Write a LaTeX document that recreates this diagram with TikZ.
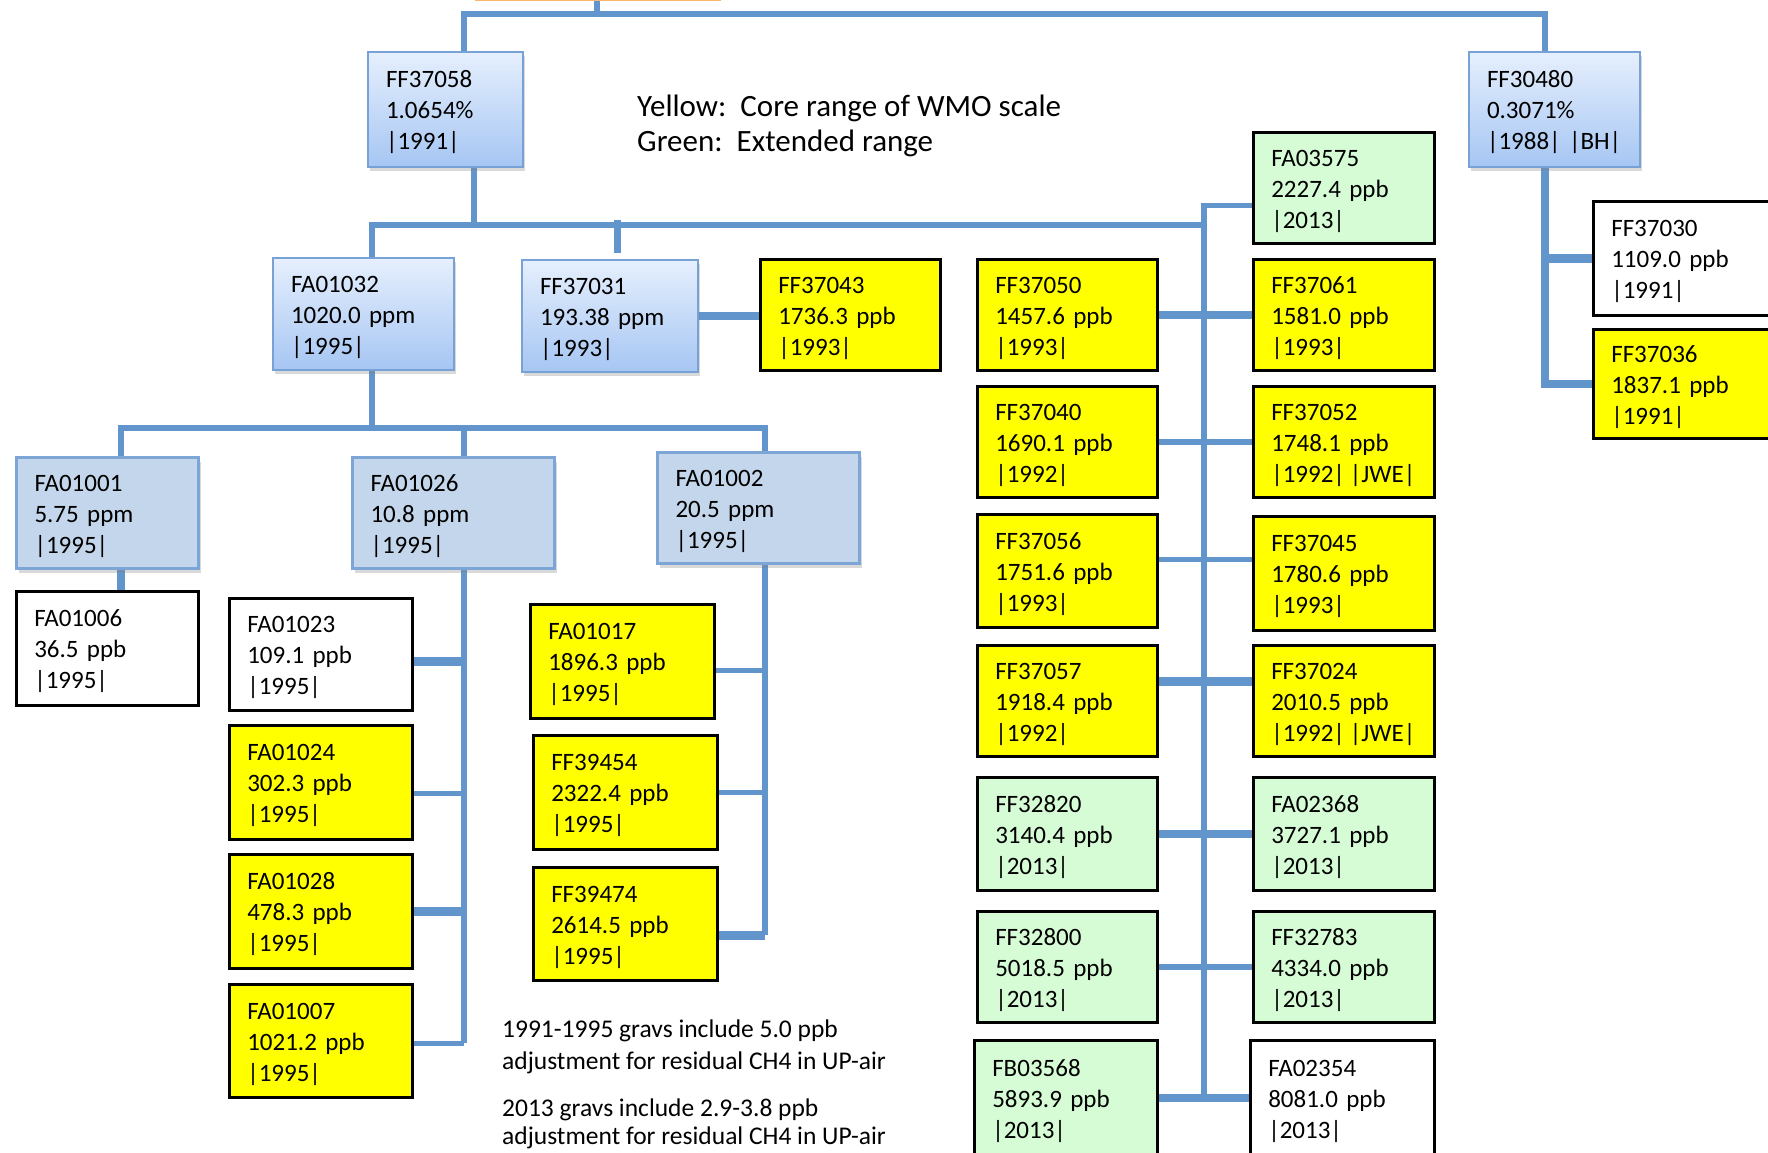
\documentclass[tikz,border=0pt]{standalone}
\usepackage{fontspec}
\setmainfont{Carlito}
\usetikzlibrary{shadows,backgrounds}
\definecolor{conc}{RGB}{99,149,205}
\definecolor{gtop}{RGB}{230,239,253}
\definecolor{gbot}{RGB}{166,198,243}
\definecolor{gbord}{RGB}{120,162,214}
\definecolor{steel}{RGB}{196,214,235}
\definecolor{steelb}{RGB}{125,166,214}
\definecolor{ylw}{RGB}{255,255,0}
\definecolor{grn}{RGB}{214,252,214}
\definecolor{orng}{RGB}{247,183,110}
\tikzset{
 conn/.style={draw=conc, line width=5.5pt},
 connthick/.style={draw=conc, line width=8.5pt},
 boxbase/.style={rectangle, inner xsep=18pt, inner ysep=0pt, font=\fontsize{25}{31}\selectfont, text=black, execute at begin node={\rule{0pt}{23pt}}},
 gradbox/.style={boxbase, draw=gbord, line width=2pt, top color=gtop, bottom color=gbot, drop shadow={opacity=0.3, shadow xshift=2pt, shadow yshift=-4pt}},
 steelbox/.style={boxbase, draw=steelb, line width=3pt, fill=steel, drop shadow={opacity=0.3, shadow xshift=2pt, shadow yshift=-4pt}},
 ylwbox/.style={boxbase, draw=black, line width=2.5pt, fill=ylw},
 grnbox/.style={boxbase, draw=black, line width=2.5pt, fill=grn},
 whtbox/.style={boxbase, draw=black, line width=2.5pt, fill=white},
 legtext/.style={anchor=base west, inner sep=0pt, font=\fontsize{31}{36}\selectfont},
 notetext/.style={anchor=base west, inner sep=0pt, font=\fontsize{25.5}{30}\selectfont},
}
\newcommand\bx[7]{\pgfmathsetmacro\bxtw{#4-36}\node[#6, anchor=north west, minimum width=#4pt, minimum height=#5pt, text width=\bxtw pt, align=left] (#1) at (#2,#3) {#7};}
\begin{document}
\begin{tikzpicture}[x=1pt,y=-1pt]
\useasboundingbox (0,0) rectangle (1768,1152);
\node[draw=orng, line width=2.5pt, fill=white, minimum width=243pt, minimum height=40pt, anchor=south west, inner sep=0pt] (top) at (475,1) {};
% level 1
\bx{FF37058}{367}{51}{155}{115}{gradbox}{FF37058\\1.0654\%\\|1991|}
\bx{FF30480}{1468}{51}{171}{115}{gradbox}{FF30480\\0.3071\%\\\mbox{|1988| |BH|}}
% legend
\node[legtext] (leg1) at (637,116) {Yellow:\ \ Core range of WMO scale};
\node[legtext] (leg2) at (637,151) {Green:\ \ Extended range};
% level 2
\bx{FA01032}{272}{257}{181}{112}{gradbox}{FA01032\\1020.0 ppm\\|1995|}
\bx{FF37031}{521}{259}{176}{112}{gradbox}{FF37031\\193.38 ppm\\|1993|}
\bx{FF37043}{759}{258}{180}{111}{ylwbox}{FF37043\\1736.3 ppb\\|1993|}
% level 3
\bx{FA01001}{15}{456}{182}{111}{steelbox}{FA01001\\5.75 ppm\\|1995|}
\bx{FA01026}{351}{456}{202}{111}{steelbox}{FA01026\\10.8 ppm\\|1995|}
\bx{FA01002}{656}{451}{202}{111}{steelbox}{FA01002\\20.5 ppm\\|1995|}
\bx{FA01006}{15}{590}{182}{114}{whtbox}{FA01006\\36.5 ppb\\|1995|}
\bx{FA01023}{228}{597}{183}{112}{whtbox}{FA01023\\109.1 ppb\\|1995|}
\bx{FA01024}{228}{724}{183}{114}{ylwbox}{FA01024\\302.3 ppb\\|1995|}
\bx{FA01028}{228}{853}{183}{114}{ylwbox}{FA01028\\478.3 ppb\\|1995|}
\bx{FA01007}{228}{983}{183}{113}{ylwbox}{FA01007\\1021.2 ppb\\|1995|}
\bx{FA01017}{529}{603}{184}{114}{ylwbox}{FA01017\\1896.3 ppb\\|1995|}
\bx{FF39454}{532}{734}{184}{114}{ylwbox}{FF39454\\2322.4 ppb\\|1995|}
\bx{FF39474}{532}{866}{184}{113}{ylwbox}{FF39474\\2614.5 ppb\\|1995|}
% right columns
\bx{FA03575}{1252}{131}{181}{111}{grnbox}{FA03575\\2227.4 ppb\\|2013|}
\bx{FF37050}{976}{258}{180}{111}{ylwbox}{FF37050\\1457.6 ppb\\|1993|}
\bx{FF37061}{1252}{258}{181}{111}{ylwbox}{FF37061\\1581.0 ppb\\|1993|}
\bx{FF37040}{976}{385}{180}{111}{ylwbox}{FF37040\\1690.1 ppb\\|1992|}
\bx{FF37052}{1252}{385}{181}{111}{ylwbox}{FF37052\\1748.1 ppb\\\mbox{|1992|\hspace{0.2em}|JWE|}}
\bx{FF37056}{976}{513}{180}{113}{ylwbox}{FF37056\\1751.6 ppb\\|1993|}
\bx{FF37045}{1252}{515}{181}{114}{ylwbox}{FF37045\\1780.6 ppb\\|1993|}
\bx{FF37057}{976}{644}{180}{111}{ylwbox}{FF37057\\1918.4 ppb\\|1992|}
\bx{FF37024}{1252}{644}{181}{111}{ylwbox}{FF37024\\2010.5 ppb\\\mbox{|1992|\hspace{0.2em}|JWE|}}
\bx{FF32820}{976}{776}{180}{113}{grnbox}{FF32820\\3140.4 ppb\\|2013|}
\bx{FA02368}{1252}{776}{181}{113}{grnbox}{FA02368\\3727.1 ppb\\|2013|}
\bx{FF32800}{976}{910}{180}{111}{grnbox}{FF32800\\5018.5 ppb\\|2013|}
\bx{FF32783}{1252}{910}{181}{111}{grnbox}{FF32783\\4334.0 ppb\\|2013|}
\bx{FB03568}{973}{1039}{183}{115}{grnbox}{FB03568\\5893.9 ppb\\|2013|}
\bx{FA02354}{1249}{1039}{184}{115}{whtbox}{FA02354\\8081.0 ppb\\|2013|}
\bx{FF37030}{1592}{200}{180}{114}{whtbox}{FF37030\\1109.0 ppb\\|1991|}
\bx{FF37036}{1592}{328}{180}{109}{ylwbox}{FF37036\\1837.1 ppb\\|1991|}
% notes
\node[notetext] (n1) at (502,1037) {1991-1995 gravs include 5.0 ppb};
\node[notetext] (n2) at (502,1069) {adjustment for residual CH4 in UP-air};
\node[notetext] (n3) at (502,1116) {2013 gravs include 2.9-3.8 ppb};
\node[notetext] (n4) at (502,1144) {adjustment for residual CH4 in UP-air};
% connectors
\begin{scope}[on background layer]
\coordinate (tb) at (597,14);
\coordinate (tl) at (464,14);
\coordinate (tr) at (1545,14);
\draw[conn] (top.south -| tb) -- (tb);
\draw[conn] (FF37058.north -| tl) -- (tl) -- (tr) -- (FF30480.north -| tr);
\coordinate (m1) at (474,225);
\coordinate (ml) at (372,225);
\coordinate (mr) at (1204,225);
\coordinate (ms) at (617,220);
\draw[conn] (FF37058.south -| m1) -- (m1);
\draw[conn] (FA01032.north -| ml) -- (ml) -- (mr);
\draw[conn, line width=7pt, shorten >=6pt] (ms) -- (FF37031.north -| ms);
\draw[connthick] (FF37031.east) -- (FF37031.east -| FF37043.west);
\coordinate (ea) at ([yshift=-17.5pt]FA03575.west);
\draw[conn] (ea) -- (ea -| mr) -- (FB03568.east -| mr);
\draw[connthick] (FF37050.east) -- (FF37050.east -| FF37061.west);
\draw[conn] (FF37040.east) -- (FF37040.east -| FF37052.west);
\coordinate (r3) at ([yshift=11.5pt]FF37056.east);
\draw[conn] (r3) -- (r3 -| FF37045.west);
\coordinate (r4) at ([yshift=19.5pt]FF37057.east);
\draw[connthick] (r4) -- (r4 -| FF37024.west);
\draw[connthick] (FF32820.east) -- (FF32820.east -| FA02368.west);
\draw[conn] (FF32800.east) -- (FF32800.east -| FF32783.west);
\draw[connthick] (FB03568.east) -- (FB03568.east -| FA02354.west);
\draw[connthick] (FF30480.south -| tr) -- (FF37036.west -| tr) -- (FF37036.west);
\draw[connthick] (FF37030.west -| tr) -- (FF37030.west);
\coordinate (lb) at (372,428);
\coordinate (bl) at (121,428);
\coordinate (br) at (765,428);
\coordinate (bm) at (464,428);
\draw[conn] (FA01032.south -| lb) -- (lb);
\draw[conn] (FA01001.north -| bl) -- (bl) -- (br) -- (FA01002.north -| br);
\draw[conn] (FA01026.north -| bm) -- (bm);
\draw[connthick] (FA01001.south -| bl) -- (FA01006.north -| bl);
\coordinate (k1) at ([yshift=-7pt]FA01023.east);
\coordinate (k2) at ([yshift=-11pt]FA01024.east);
\coordinate (k3) at (FA01028.east);
\coordinate (k4) at ([yshift=-2.5pt]FA01007.east);
\draw[conn] (FA01026.south -| bm) -- (k4 -| bm);
\draw[connthick] (k1) -- (k1 -| bm);
\draw[conn] (k2) -- (k2 -| bm);
\draw[connthick] (k3) -- (k3 -| bm);
\draw[conn] (k4) -- (k4 -| bm);
\coordinate (j1) at ([yshift=-9pt]FA01017.east);
\coordinate (j2) at (FF39454.east);
\coordinate (j3) at ([yshift=-11.5pt]FF39474.east);
\draw[conn] (FA01002.south -| br) -- (j3 -| br);
\draw[conn] (j1) -- (j1 -| br);
\draw[conn] (j2) -- (j2 -| br);
\draw[connthick] (j3) -- (j3 -| br);
\end{scope}
\end{tikzpicture}
\end{document}
